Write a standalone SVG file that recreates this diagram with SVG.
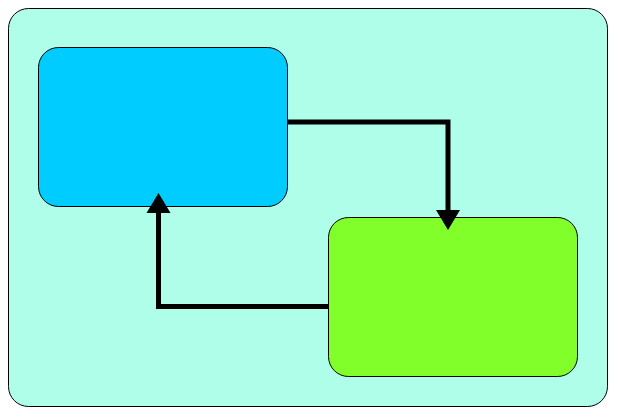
<svg xmlns="http://www.w3.org/2000/svg" width="620" height="420" viewBox="0 0 620 420">
<style>
.box{stroke:#000;stroke-width:1}
.conn{fill:none;stroke:#000;stroke-width:5}
.head{fill:#000}
</style>
<rect width="620" height="420" fill="#fff"/>
<g id="container"><rect class="box" x="8.5" y="8.5" width="599" height="398" rx="20" fill="#aefeea"/></g>
<g id="blue"><rect class="box" x="38.5" y="47.5" width="249" height="159" rx="20" fill="#00ccff"/></g>
<g id="green"><rect class="box" x="328.5" y="217.5" width="249" height="159" rx="20" fill="#80ff2a"/></g>
<g id="connectors">
<polyline class="conn" points="287.5,122 448,122 448,212"/>
<polygon class="head" points="436,210 460,210 448,230"/>
<polyline class="conn" points="328.5,306.5 158.5,306.5 158.5,211"/>
<polygon class="head" points="146.5,213 170.5,213 158.5,193"/>
</g>
</svg>
